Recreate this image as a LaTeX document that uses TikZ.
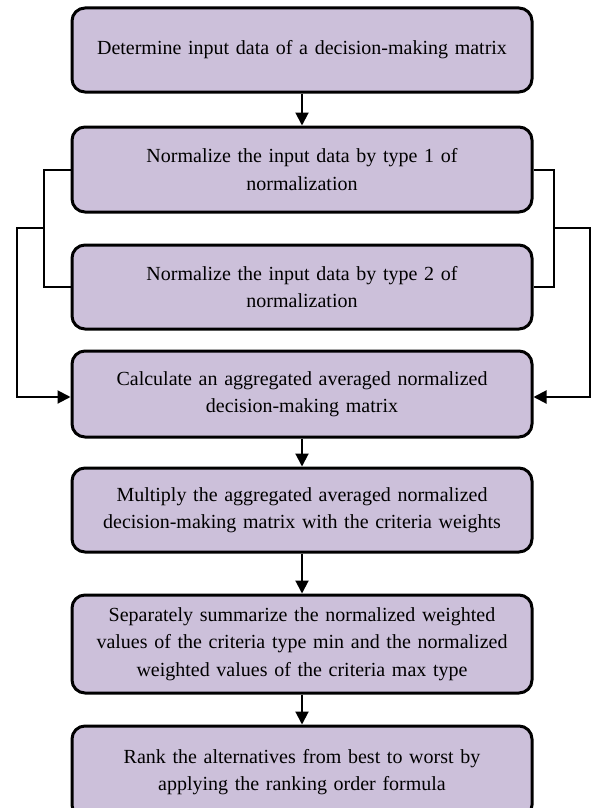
\documentclass[tikz,border=0pt]{standalone}
\usepackage{fontspec}
\setmainfont{Liberation Serif}
\usetikzlibrary{arrows.meta}
\definecolor{boxfill}{RGB}{204,192,218}
\begin{document}
\begin{tikzpicture}[x=1pt,y=-1pt,
  stepbox/.style={draw=black, line width=3pt, fill=boxfill, rounded corners=13pt,
    minimum width=460pt, text width=450pt, align=center, inner sep=0pt,
    font=\fontsize{20}{27.5}\selectfont},
  conn/.style={line width=2pt, -{Triangle[length=13pt,width=13pt]}},
  link/.style={line width=2pt}]
\clip (0,0) rectangle (593,808);
\fill[white] (0,0) rectangle (593,808);
\node[stepbox, minimum height=84pt] (b1) at (302,50) {Determine input data of a decision-making matrix};
\node[stepbox, minimum height=85pt] (b2) at (302,169.5) {Normalize the input data by type 1 of\\normalization};
\node[stepbox, minimum height=84pt] (b3) at (302,287) {Normalize the input data by type 2 of\\normalization};
\node[stepbox, minimum height=86pt] (b4) at (302,394) {Calculate an aggregated averaged normalized\\decision-making matrix};
\node[stepbox, minimum height=84pt] (b5) at (302,510) {Multiply the aggregated averaged normalized\\decision-making matrix with the criteria weights};
\node[stepbox, minimum height=98pt] (b6) at (302,644) {Separately summarize the normalized weighted\\values of the criteria type min and the normalized\\weighted values of the criteria max type};
\node[stepbox, minimum height=92pt] (b7) at (302,772) {Rank the alternatives from best to worst by\\applying the ranking order formula};
\draw[conn] (b1) -- (b2);
\draw[conn] (b4) -- (b5);
\draw[conn] (b5) -- (b6);
\draw[conn] (b6) -- (b7);
% left brackets
\draw[link] (b2.west) -- (44,169.5) |- (b3.west);
\coordinate (L) at (44,228);
\draw[conn] (L) -- (17,228) |- ([yshift=-3pt]b4.west);
% right brackets
\draw[link] (b2.east) -- (554,169.5) |- (b3.east);
\coordinate (R) at (554,228);
\draw[conn] (R) -- (590,228) |- ([yshift=-3pt]b4.east);
\end{tikzpicture}
\end{document}
